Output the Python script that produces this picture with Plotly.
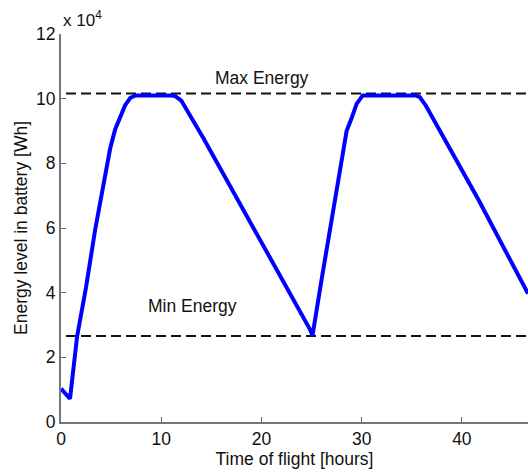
import plotly.graph_objects as go

# Time of flight [hours] and battery energy [Wh]
time_h = [0, 0.9, 1.6, 2.5, 3.4, 4.4, 4.9, 5.4, 5.9, 6.4, 6.9, 7.4, 11.0, 11.4, 12.0,
          14.2, 24.8, 25.1, 26.0, 27.4, 28.0, 28.5, 29.0, 29.5, 30.1, 35.4, 35.8,
          36.4, 41.7, 46.6]
energy_wh = [1.03e4, 0.72e4, 2.63e4, 4.17e4, 5.93e4, 7.68e4, 8.45e4, 9.05e4, 9.45e4,
             9.8e4, 10.02e4, 10.1e4, 10.1e4, 10.08e4, 9.94e4, 8.78e4, 2.89e4, 2.68e4,
             4.4e4, 6.96e4, 8.09e4, 9.0e4, 9.4e4, 9.84e4, 10.1e4, 10.1e4, 10.05e4,
             9.79e4, 6.85e4, 3.97e4]

max_energy = 10.16e4
min_energy = 2.66e4
limit_span = [0.5, 46.6]

x_ticks = [0, 10, 20, 30, 40]
y_ticks = [0, 2e4, 4e4, 6e4, 8e4, 10e4, 12e4]
y_tick_text = ["0", "2", "4", "6", "8", "10", "12"]

font = "Liberation Sans, Arial, sans-serif"

fig = go.Figure()
fig.add_trace(go.Scatter(x=limit_span, y=[max_energy, max_energy], mode="lines",
                         line=dict(color="#111", width=2, dash="10px,5px"),
                         showlegend=False, hoverinfo="skip"))
fig.add_trace(go.Scatter(x=limit_span, y=[min_energy, min_energy], mode="lines",
                         line=dict(color="#111", width=2, dash="10px,5px"),
                         showlegend=False, hoverinfo="skip"))
fig.add_trace(go.Scatter(x=time_h, y=energy_wh, mode="lines",
                         line=dict(color="#0000ff", width=4),
                         showlegend=False))

fig.add_annotation(x=20.1, y=10.65e4, text="Max Energy", showarrow=False,
                   font=dict(family=font, size=17.5, color="#111"))
fig.add_annotation(x=13.1, y=3.6e4, text="Min Energy", showarrow=False,
                   font=dict(family=font, size=17.5, color="#111"))
fig.add_annotation(xref="paper", yref="paper", x=0, y=1.0, xanchor="left",
                   yanchor="bottom", yshift=2,
                   text="x 10<sup>4</sup>", showarrow=False,
                   font=dict(family=font, size=17, color="#111"))

fig.update_layout(
    width=528, height=472,
    margin=dict(l=61, r=0, t=34, b=50),
    paper_bgcolor="white", plot_bgcolor="white",
    font=dict(family=font, size=17.5, color="#111"),
    xaxis=dict(range=[0, 46.6], tickvals=x_ticks, ticks="inside", ticklen=5,
               tickcolor="#666", showline=True, linecolor="#777", linewidth=2,
               showgrid=False, zeroline=False,
               title=dict(text="Time of flight [hours]", standoff=2,
                          font=dict(size=17.5))),
    yaxis=dict(range=[0, 12e4], tickvals=y_ticks, ticktext=y_tick_text,
               ticks="inside", ticklen=5, tickcolor="#666", showline=True,
               linecolor="#777", linewidth=2, showgrid=False, zeroline=False,
               title=dict(text="Energy level in battery [Wh]", standoff=4,
                          font=dict(size=17.5))),
)

fig.write_html(
    "out.html",
    config={"displayModeBar": False},
    post_script="document.body.style.margin='0';"
                "document.body.style.overflow='hidden';"
                "document.documentElement.style.overflow='hidden';",
)
